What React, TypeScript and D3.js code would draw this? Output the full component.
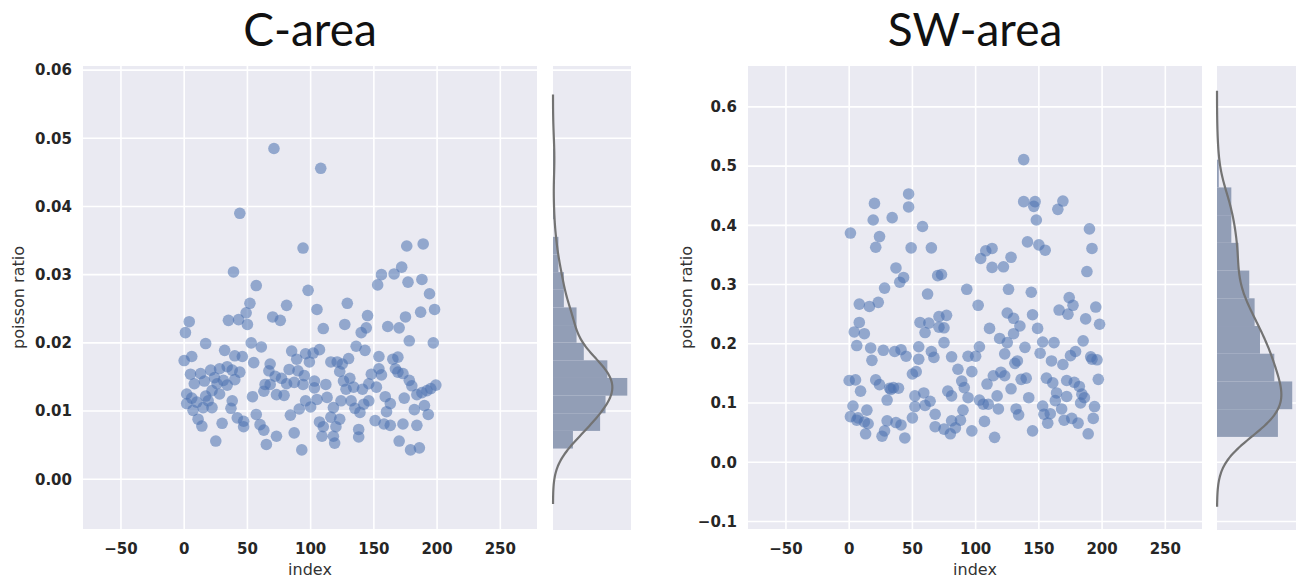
import React from "react";
import * as d3 from "d3";

// ---------- data ----------
const C_INDEX = [71,108,44,94,39,176,189,57,98,172,166,156,153,177,188,194,198,187,175,197,178,170,161,145,144,140,129,127,105,110,81,70,76,52,49,50,43,35,4,1,17,53,61,32,40,46,55,6,0,136,143,154,165,169,130,116,121,125,107,102,96,85,89,99,68,
5,13,21,28,34,38,44,8,16,24,31,34,2,10,2,15,22,7,19,28,22,38,37,11,14,30,25,42,47,47,54,57,60,63,65,73,64,67,72,77,81,73,79,84,87,91,93,100,83,90,95,87,94,103,103,112,113,107,110,116,120,123,109,118,119,123,126,131,128,134,141,132,135,139,138,138,146,148,152,154,156,159,163,160,151,158,163,167,173,178,180,184,188,192,195,199,182,190,193,173,184,170,179,186,169,
6,17,26,40,63,68,96,105,118,124,146,174,142];
const C_RATIO = [0.0485,0.0456,0.039,0.0339,0.0304,0.0342,0.0345,0.0284,0.0277,0.0311,0.0301,0.030,0.0285,0.0289,0.0293,0.0272,0.0249,0.0245,0.0238,0.0200,0.0203,0.0222,0.0224,0.0240,0.0222,0.0215,0.0258,0.0227,0.0249,0.0221,0.0255,0.0238,0.0233,0.0258,0.0244,0.0227,0.0234,0.0233,0.0231,0.0215,0.0199,0.0200,0.0194,0.0189,0.0181,0.0180,0.0171,0.0180,0.0174,0.0195,0.0189,0.0180,0.0176,0.0179,0.0177,0.0172,0.0172,0.0169,0.019,0.0185,0.0184,0.0188,0.0176,0.0172,0.0169,
0.0154,0.0155,0.016,0.0162,0.0165,0.016,0.0157,0.014,0.0144,0.0149,0.0145,0.0138,0.0125,0.0113,0.0111,0.0105,0.0105,0.0101,0.0115,0.0125,0.013,0.0115,0.0104,0.0088,0.0078,0.0082,0.0056,0.009,0.0085,0.0077,0.0121,0.0095,0.008,0.0072,0.0051,0.0063,0.0139,0.0159,0.0151,0.0148,0.014,0.0124,0.0123,0.0094,0.0068,0.0103,0.0043,0.0106,0.0161,0.0159,0.0152,0.0142,0.0139,0.0134,0.0144,0.0139,0.012,0.0084,0.0077,0.0091,0.0077,0.0088,0.0063,0.0063,0.0053,0.0158,0.0144,0.0148,0.0132,0.0135,0.0132,0.0115,0.0104,0.0098,0.0073,0.0062,0.0115,0.0154,0.0135,0.0162,0.0153,0.0121,0.0111,0.0099,0.0086,0.0081,0.0079,0.0162,0.0155,0.0145,0.0137,0.0124,0.0127,0.013,0.0133,0.0138,0.0102,0.0108,0.0095,0.0081,0.0079,0.0056,0.0043,0.0046,0.0157,
0.0119,0.0122,0.014,0.0146,0.0129,0.0139,0.0115,0.0117,0.0105,0.0115,0.014,0.0119,0.011];

const SW_INDEX = [138,138,147,146,148,169,165,190,192,188,141,150,155,47,47,20,19,34,58,1,24,21,49,65,37,40,43,70,73,28,62,93,104,108,113,113,122,128,126,144,102,8,16,23,8,4,12,6,17,18,27,36,41,45,56,63,60,55,65,67,55,71,77,71,75,75,81,94,100,103,111,119,125,125,130,135,130,123,133,131,139,145,149,153,151,162,160,169,166,173,174,177,187,195,198,185,175,179,191,196,197,
0,5,9,21,24,32,35,39,30,3,1,7,14,12,15,13,26,28,30,37,41,44,50,52,52,50,53,59,60,64,68,68,75,80,84,81,88,78,81,86,89,91,94,90,97,97,107,103,106,110,109,114,120,123,117,118,115,128,132,134,136,140,142,145,153,156,161,154,159,157,164,163,168,172,172,170,176,181,178,182,184,186,183,194,193,189,192,33,6];
const SW_RATIO = [0.511,0.44,0.44,0.432,0.409,0.441,0.427,0.394,0.361,0.322,0.372,0.367,0.358,0.453,0.431,0.437,0.409,0.413,0.398,0.387,0.381,0.363,0.362,0.362,0.328,0.304,0.312,0.315,0.317,0.294,0.284,0.292,0.344,0.357,0.361,0.329,0.33,0.346,0.292,0.287,0.265,0.267,0.263,0.27,0.236,0.22,0.217,0.197,0.193,0.172,0.189,0.187,0.19,0.179,0.236,0.235,0.219,0.195,0.187,0.177,0.174,0.246,0.248,0.228,0.227,0.202,0.178,0.179,0.179,0.195,0.226,0.209,0.202,0.252,0.243,0.23,0.217,0.183,0.171,0.167,0.194,0.249,0.226,0.203,0.184,0.202,0.171,0.165,0.257,0.25,0.278,0.265,0.242,0.262,0.233,0.205,0.18,0.187,0.178,0.173,0.14,
0.138,0.139,0.12,0.139,0.131,0.125,0.126,0.125,0.105,0.095,0.077,0.075,0.088,0.068,0.065,0.048,0.044,0.053,0.07,0.067,0.063,0.041,0.075,0.112,0.094,0.149,0.153,0.117,0.096,0.103,0.081,0.06,0.056,0.048,0.058,0.07,0.071,0.12,0.112,0.157,0.137,0.126,0.109,0.088,0.153,0.053,0.069,0.105,0.098,0.098,0.132,0.146,0.152,0.146,0.112,0.09,0.042,0.124,0.09,0.08,0.14,0.142,0.109,0.053,0.095,0.142,0.134,0.081,0.082,0.066,0.117,0.104,0.09,0.138,0.111,0.071,0.074,0.066,0.135,0.128,0.115,0.109,0.1,0.094,0.074,0.048,0.174,0.123,0.071];

const X_TICKS = [-50, 0, 50, 100, 150, 200, 250];
const C_Y_TICKS = [0, 0.01, 0.02, 0.03, 0.04, 0.05, 0.06];
const SW_Y_TICKS = [-0.1, 0, 0.1, 0.2, 0.3, 0.4, 0.5, 0.6];

// marginal histogram counts (bins of equal width from a start value)
const C_HIST_COUNTS = [11, 26, 29, 41, 30, 17, 13, 13, 6, 6, 3, 3, 0, 1, 0, 1, 1];
const C_HIST_START = 0.0045;
const C_HIST_WIDTH = 0.002587;
const SW_HIST_COUNTS = [34, 42, 32, 24, 21, 18, 12, 8, 8, 1];
const SW_HIST_START = 0.0428;
const SW_HIST_WIDTH = 0.0468;

const W = 1297;
const H = 581;
const BG = "#eaeaf2";
const FONT = "'DejaVu Sans', sans-serif";
const minus = (s: string) => s.replace("-", "\u2212");

function kdeCurve(values: number[]) {
  const n = values.length;
  const sd = d3.deviation(values) as number;
  const bw = sd * Math.pow(n, -0.2);
  const lo = (d3.min(values) as number) - 3 * bw;
  const hi = (d3.max(values) as number) + 3 * bw;
  const pts: [number, number][] = [];
  const N = 200;
  for (let i = 0; i <= N; i++) {
    const y = lo + ((hi - lo) * i) / N;
    let s = 0;
    for (const v of values) {
      const z = (y - v) / bw;
      s += Math.exp(-0.5 * z * z);
    }
    pts.push([y, s / (n * bw * Math.sqrt(2 * Math.PI))]);
  }
  return pts;
}

type PanelProps = {
  title: string;
  index: number[];
  ratio: number[];
  yTicks: number[];
  yDomain: [number, number];
  fmt: (v: number) => string;
  counts: number[];
  hStart: number;
  hWidth: number;
  sx0: number;
  sx1: number;
  mx0: number;
  mx1: number;
  ylabX: number;
};

const TOP = 66;
const BOTTOM = 529;

function Panel(p: PanelProps) {
  const x = d3.scaleLinear().domain([-80, 279]).range([p.sx0, p.sx1]);
  const y = d3.scaleLinear().domain(p.yDomain).range([BOTTOM, TOP]);
  const total = d3.sum(p.counts);
  const dens = p.counts.map((c) => c / (total * p.hWidth));
  const kde = kdeCurve(p.ratio);
  const maxD = Math.max(d3.max(dens) as number, d3.max(kde, (d) => d[1]) as number);
  const mx = d3.scaleLinear().domain([0, maxD * 1.05]).range([p.mx0, p.mx1]);
  const line = d3
    .line<[number, number]>()
    .x((d) => mx(d[1]))
    .y((d) => y(d[0]))
    .curve(d3.curveBasis);
  const cx = (p.sx0 + p.sx1) / 2;
  const cy = (TOP + BOTTOM) / 2;
  return (
    <g>
      <text x={cx} y={46} textAnchor="middle" fontFamily="Lato, 'Open Sans', sans-serif" fontSize={46} fill="#111">
        {p.title}
      </text>
      {/* scatter axes */}
      <rect x={p.sx0} y={TOP} width={p.sx1 - p.sx0} height={BOTTOM - TOP} fill={BG} />
      {X_TICKS.map((t) => (
        <line key={"gx" + t} x1={x(t)} x2={x(t)} y1={TOP} y2={BOTTOM} stroke="#fff" strokeWidth={1.6} />
      ))}
      {p.yTicks.map((t) => (
        <line key={"gy" + t} x1={p.sx0} x2={p.sx1} y1={y(t)} y2={y(t)} stroke="#fff" strokeWidth={1.6} />
      ))}
      <g>
        {p.index.map((ix, i) => (
          <circle key={i} cx={x(ix)} cy={y(p.ratio[i])} r={5.8} fill="#4c72b0" fillOpacity={0.56} />
        ))}
      </g>
      {X_TICKS.map((t) => (
        <text key={"tx" + t} x={x(t)} y={554} textAnchor="middle" fontFamily={FONT} fontWeight="bold" fontSize={15} fill="#262626">
          {minus(String(t))}
        </text>
      ))}
      {p.yTicks.map((t) => (
        <text key={"ty" + t} x={p.sx0 - 11} y={y(t)} dy="0.36em" textAnchor="end" fontFamily={FONT} fontWeight="bold" fontSize={15} fill="#262626">
          {minus(p.fmt(t))}
        </text>
      ))}
      <text x={cx} y={575} textAnchor="middle" fontFamily={FONT} fontSize={16} fill="#333">
        index
      </text>
      <text
        transform={`translate(${p.ylabX},${cy}) rotate(-90)`}
        textAnchor="middle"
        dy="0.36em"
        fontFamily={FONT}
        fontSize={16}
        fill="#333"
      >
        poisson ratio
      </text>
      {/* marginal axes */}
      <rect x={p.mx0} y={TOP} width={p.mx1 - p.mx0} height={BOTTOM - TOP + 1} fill={BG} />
      {p.yTicks.map((t) => (
        <line key={"my" + t} x1={p.mx0} x2={p.mx1} y1={y(t)} y2={y(t)} stroke="#fff" strokeWidth={1.6} />
      ))}
      {dens.map((d, i) => {
        const a = p.hStart + i * p.hWidth;
        const b = a + p.hWidth;
        return (
          <rect key={"h" + i} x={mx(0)} y={y(b)} width={mx(d) - mx(0)} height={y(a) - y(b)} fill="#929eb6" />
        );
      })}
      <path d={line(kde) as string} fill="none" stroke="#737373" strokeWidth={2.2} />
    </g>
  );
}

export default function App() {
  return (
    <svg width={W} height={H} style={{ position: "absolute", left: 0, top: 0, background: "#fff" }}>
      <Panel
        title="C-area"
        index={C_INDEX}
        ratio={C_RATIO}
        yTicks={C_Y_TICKS}
        yDomain={[-0.0073, 0.0606]}
        fmt={(v) => v.toFixed(2)}
        counts={C_HIST_COUNTS}
        hStart={C_HIST_START}
        hWidth={C_HIST_WIDTH}
        sx0={83}
        sx1={537}
        mx0={553}
        mx1={631}
        ylabX={18}
      />
      <Panel
        title="SW-area"
        index={SW_INDEX}
        ratio={SW_RATIO}
        yTicks={SW_Y_TICKS}
        yDomain={[-0.1127, 0.669]}
        fmt={(v) => v.toFixed(1)}
        counts={SW_HIST_COUNTS}
        hStart={SW_HIST_START}
        hWidth={SW_HIST_WIDTH}
        sx0={748}
        sx1={1202}
        mx0={1217}
        mx1={1296}
        ylabX={686}
      />
    </svg>
  );
}
